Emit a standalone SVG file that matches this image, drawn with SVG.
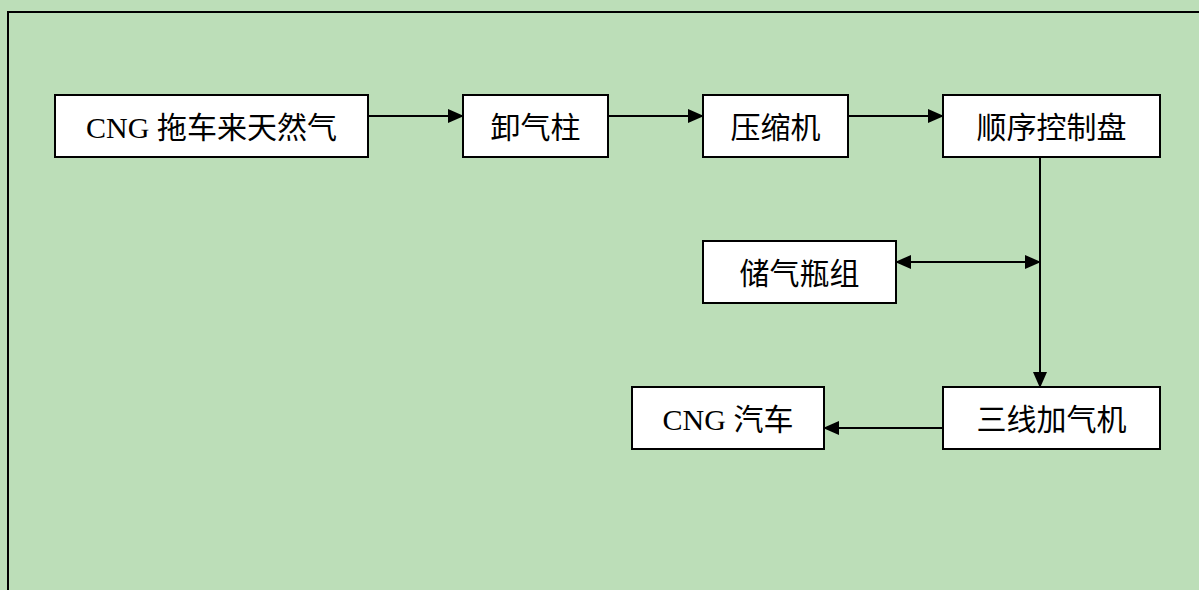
<svg xmlns="http://www.w3.org/2000/svg" width="1199" height="590" viewBox="0 0 1199 590">
<style>
.box{fill:#fff;stroke:#000;stroke-width:2}
.t{font-family:"Liberation Serif","Noto Sans CJK SC",serif;font-size:30px;fill:#000;text-anchor:middle}
.c{stroke:#000;stroke-width:2;fill:none}
</style>
<defs>
<marker id="ah" markerWidth="16" markerHeight="14" refX="15" refY="7" orient="auto" markerUnits="userSpaceOnUse">
<path d="M0,0 L16,7 L0,14 Z" fill="#000"/>
</marker>
<marker id="as" markerWidth="16" markerHeight="14" refX="1" refY="7" orient="auto" markerUnits="userSpaceOnUse">
<path d="M16,0 L0,7 L16,14 Z" fill="#000"/>
</marker>
</defs>
<rect x="0" y="0" width="1199" height="590" fill="#bcdeb8"/>
<rect x="8" y="12" width="1200" height="600" fill="none" stroke="#000" stroke-width="2"/>
<g id="connectors">
<line class="c" x1="368" y1="116" x2="463" y2="116" marker-end="url(#ah)"/>
<line class="c" x1="608" y1="116" x2="703" y2="116" marker-end="url(#ah)"/>
<line class="c" x1="848" y1="116" x2="943" y2="116" marker-end="url(#ah)"/>
<line class="c" x1="1040" y1="158" x2="1040" y2="387" marker-end="url(#ah)"/>
<line class="c" x1="896" y1="262" x2="1040" y2="262" marker-start="url(#as)" marker-end="url(#ah)"/>
<line class="c" x1="943" y1="428" x2="824" y2="428" marker-end="url(#ah)"/>
</g>
<g id="n1"><rect class="box" x="55" y="95" width="313" height="62"/><text class="t" x="211.5" y="138">CNG 拖车来天然气</text></g>
<g id="n2"><rect class="box" x="463" y="95" width="145" height="62"/><text class="t" x="535.5" y="138">卸气柱</text></g>
<g id="n3"><rect class="box" x="703" y="95" width="145" height="62"/><text class="t" x="775.5" y="138">压缩机</text></g>
<g id="n4"><rect class="box" x="943" y="95" width="217" height="62"/><text class="t" x="1051.5" y="138">顺序控制盘</text></g>
<g id="n5"><rect class="box" x="703" y="241" width="193" height="62"/><text class="t" x="799.5" y="284">储气瓶组</text></g>
<g id="n6"><rect class="box" x="943" y="387" width="217" height="62"/><text class="t" x="1051.5" y="430">三线加气机</text></g>
<g id="n7"><rect class="box" x="632" y="387" width="192" height="62"/><text class="t" x="728" y="430">CNG 汽车</text></g>
</svg>
